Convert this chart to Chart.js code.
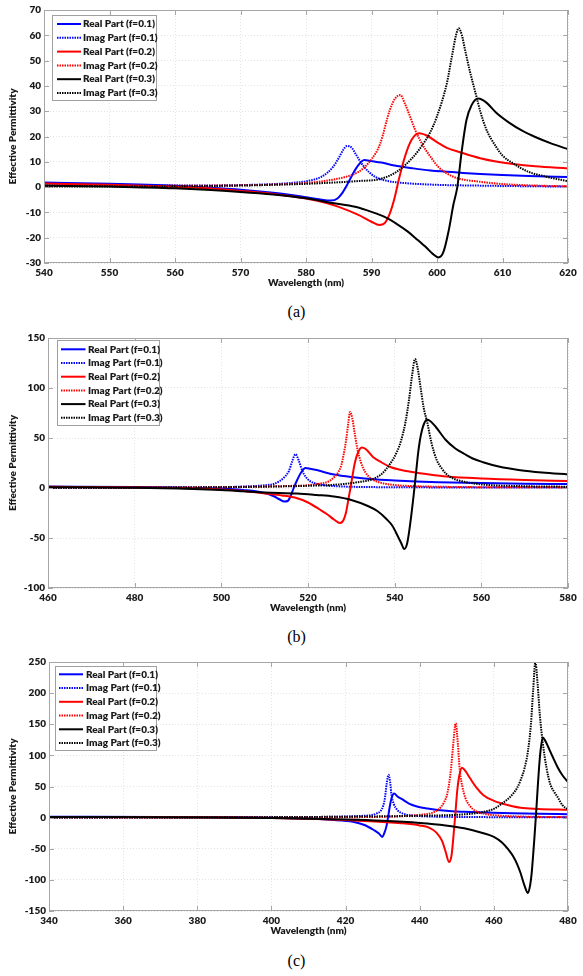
<!DOCTYPE html>
<html>
<head>
<meta charset="utf-8">
<script src="https://cdn.jsdelivr.net/npm/chart.js@4.4.1/dist/chart.umd.min.js"></script>
<style>
  body { margin: 0; background: #fff; width: 583px; height: 976px; position: relative; overflow: hidden; }
  .box { position: absolute; left: 0; width: 583px; height: 290px; }
  .cap { position: absolute; left: 5px; width: 583px; text-align: center; font: 16px "Liberation Serif", serif; line-height: 18px; color: #000; }
</style>
</head>
<body>
<div class="box" style="top:0px"><canvas id="chartA"></canvas></div>
<div class="cap" style="top:303px">(a)</div>
<div class="box" style="top:328px"><canvas id="chartB"></canvas></div>
<div class="cap" style="top:628px">(b)</div>
<div class="box" style="top:652px"><canvas id="chartC"></canvas></div>
<div class="cap" style="top:952px">(c)</div>
<script>
// series labels (same for the three panels)
var seriesLabels = ['Real Part (f=0.1)', 'Imag Part (f=0.1)', 'Real Part (f=0.2)',
                    'Imag Part (f=0.2)', 'Real Part (f=0.3)', 'Imag Part (f=0.3)'];
var seriesColors = ['#0000ff', '#ff0000', '#000000'];

// ---- panel (a): 540-620 nm, [wavelength, value]
var aRe1 = [[540,1.8],[550,1.3],[560,0.5],[565,-0.2],[570,-1.0],[575,-2.2],[578,-3.2],[580,-4],[582,-4.8],[583.8,-5.3],[584.8,-4.5],[585.5,-2.5],[586.2,0.5],[587,4.5],[587.8,8],[588.9,10.7],[590,10.3],[591.5,9.7],[593.5,8.5],[596.4,7.4],[599,6.6],[601.5,6.1],[604,5.6],[606.6,5.2],[610,4.8],[614,4.4],[620,4.0]];
var aIm1 = [[540,0.6],[560,0.6],[570,0.8],[575,1.2],[578,1.7],[580,2.3],[582.3,4],[583.3,5.8],[584.1,7.9],[585,11.5],[585.7,14.8],[586.3,16.3],[587,15.5],[587.6,13],[588.2,10.5],[588.9,7.9],[589.8,5.5],[590.6,4],[592.5,2.4],[595,1.6],[600,0.9],[606,0.6],[612,0.4],[620,0.2]];
var aRe2 = [[540,1.4],[550,0.9],[560,0.1],[565,-0.5],[570,-1.5],[575,-2.7],[580,-4.5],[583,-6.2],[585,-7.8],[588,-11],[590,-13.7],[591.2,-15],[592,-14.3],[592.8,-10.4],[593.5,-4.5],[594.2,3.3],[595.1,12],[596.1,18.6],[597.3,21.3],[598.5,20.3],[600,17.8],[601.5,15.5],[603.5,13.8],[606.6,11.4],[609,10.1],[611.6,9.1],[615,8.2],[620,7.4]];
var aIm2 = [[540,0.4],[560,0.5],[570,0.7],[575,1],[580,1.6],[583,2.5],[586,4],[588,6],[590,11],[591.3,17],[592.8,30.5],[593.6,35],[594.4,36.4],[595.1,33],[595.9,27.8],[596.6,23],[597.4,18.6],[598.2,15],[599,12],[600.2,8],[601.5,5.4],[603,3.6],[606.6,2.1],[610,1.2],[614,0.7],[620,0.3]];
var aRe3 = [[540,0.6],[550,0.2],[560,-0.5],[570,-1.9],[575,-2.9],[580,-4.4],[584,-6.3],[587.5,-7.8],[590,-9.8],[592,-11.8],[594,-14.8],[595.5,-17.5],[597,-20.8],[598.4,-24],[599.4,-26.5],[600.2,-27.8],[601,-25.5],[601.8,-17],[602.5,-7],[603.1,0],[603.8,14.7],[604.5,26.5],[605.3,32.5],[606.3,35],[607.5,33.5],[609,29.5],[611,25.5],[613,22.3],[615,19.8],[617.5,17.2],[620,15]];
var aIm3 = [[540,0.2],[560,0.3],[570,0.6],[575,0.9],[580,1.3],[585,1.9],[588,2.4],[591.3,3.2],[593.8,6],[596.4,12],[598,17.5],[598.9,21.3],[600,28],[601.5,41],[602.3,52],[602.9,60],[603.3,62.8],[603.8,60],[604.3,54],[605,46],[606,36],[606.6,30],[607.5,23],[609,16],[610,12.5],[611.6,9.4],[614,6],[616.7,4.1],[620,2.3]];

// ---- panel (b): 460-580 nm
var bRe1 = [[460,1.5],[480,1],[490,0.5],[500,-0.5],[505,-2],[510,-5],[512,-8],[513.5,-11.5],[514.5,-13.6],[515.3,-13],[516,-8],[516.7,0],[517.5,8],[518.4,15.5],[519.4,20],[520.5,19.3],[522,18],[524,15.5],[526,13.5],[530,11],[535,8.8],[540,7.5],[545,6.5],[550,5.8],[560,4.9],[570,4.3],[580,4]];
var bIm1 = [[460,0.3],[490,0.5],[500,0.8],[505,1.5],[510,2.7],[512,4],[513.5,7],[514.7,11.5],[515.6,17],[516.3,26],[517.1,33.8],[517.9,27],[518.7,17],[519.5,11],[520.5,6.8],[522,4.2],[524,2.6],[528,1.5],[535,0.9],[550,0.6],[580,0.4]];
var bRe2 = [[460,1.2],[480,0.6],[490,0],[500,-1.5],[505,-3],[510,-5.5],[514,-7.5],[517.5,-10.3],[520,-14.5],[522.7,-21.5],[524.5,-26.5],[526,-31.5],[527.4,-35],[528.2,-32],[528.8,-24],[529.3,-12],[529.8,0],[530.3,13],[530.8,25],[531.5,35],[532.4,40.5],[533.3,39],[535,31],[537,25.5],[539,21],[541,18.5],[544,16],[548,13.5],[552,11.5],[560,9.5],[570,8],[580,7]];
var bIm2 = [[460,0.4],[490,0.6],[500,0.9],[510,1.4],[515,2],[520,2.8],[523,4.5],[524.7,6.5],[526.2,11.5],[527,16],[527.7,23],[528.2,33],[528.8,48],[529.3,65],[529.7,76],[530.2,70],[530.8,54],[531.4,39],[532.2,26],[533.2,16],[534.7,9],[537,5],[540,3],[545,1.8],[555,1],[580,0.6]];
var bRe3 = [[460,0.8],[480,0.2],[490,-0.5],[500,-2],[505,-3.2],[510,-4.5],[517.5,-5.5],[522,-7],[526,-8.6],[530,-12],[533.8,-18],[536,-23],[538.1,-31],[539.5,-38],[540.7,-48],[541.5,-55],[542.2,-61],[542.9,-55],[543.7,-32],[544.2,-14],[544.6,1.3],[545,18],[545.4,34.5],[545.8,47],[546.3,57.7],[546.8,64.5],[547.4,68.3],[548.2,67],[549.5,61],[551.8,48],[554,39.5],[556.1,34],[558,29.5],[560.4,25.8],[564,21.5],[569,17.8],[574,15.5],[580,13.6]];
var bIm3 = [[460,0.3],[490,0.5],[500,0.8],[510,1.3],[520,2.2],[527,3.5],[531,5.5],[534.7,8.6],[537,14],[539,24.5],[540.5,36],[541.5,47.7],[542.5,66],[543.3,88],[544,112],[544.7,129],[545.3,120],[546,100],[546.7,80],[547.5,66],[548.5,45],[549.7,28],[550.8,20],[551.8,14.6],[553.5,9.5],[556,6.3],[560,3.6],[570,1.8],[580,1.3]];

// ---- panel (c): 340-480 nm
var cRe1 = [[340,1.5],[370,1.2],[390,0.6],[400,0],[410,-1.5],[416,-3.5],[422,-6.6],[425.1,-11.9],[427.6,-19.9],[429,-25.5],[429.9,-31],[430.5,-24],[431.1,-12],[431.5,2],[431.9,17],[432.4,31],[433.1,38.6],[434,34],[435,30.6],[437.1,22.6],[439.5,17.5],[442.1,14.7],[447.1,10.9],[452,9.3],[457.2,8.3],[465,7],[472,6.2],[480,5.6]];
var cIm1 = [[340,0.3],[400,0.6],[415,1.2],[420,1.8],[425,3],[427,4],[428.5,7],[429.5,11],[430.2,20],[430.6,31],[431.1,55],[431.6,69],[432,58],[432.4,36],[433,22],[434,12],[435.5,6.5],[438,3.5],[442,2],[450,1.1],[465,0.7],[480,0.5]];
var cRe2 = [[340,1.2],[380,0.6],[400,-0.5],[410,-2],[420,-4],[425,-5.5],[430,-7],[435,-9],[440,-12.5],[442.5,-16],[444.5,-24],[446,-37],[447,-55],[447.9,-71.4],[448.6,-60],[449.1,-30],[449.6,5],[450.1,42],[450.7,68],[451.4,80],[452.3,75],[453.5,64],[455.2,49],[457.2,36],[460,27],[462.2,22.6],[467.2,15.7],[472,14],[480,12.6]];
var cIm2 = [[340,0.3],[420,0.7],[430,1.3],[436,2.5],[440,4.5],[443,7],[445,13],[446.5,24],[447.5,40],[448.4,76],[449,115],[449.7,151.6],[450.3,118],[450.8,76],[451.5,50],[452.3,32],[453.5,19],[455,11],[457.5,6],[461,3.5],[467,1.8],[480,0.8]];
var cRe3 = [[340,1],[380,0.3],[400,-0.8],[420,-3],[430,-5],[440,-8.5],[447,-12.5],[452,-17],[457.2,-25],[460,-31],[462.2,-40],[464,-52],[465.2,-62],[466.3,-75],[467.2,-89],[468.2,-108],[469.2,-121],[469.8,-108],[470.2,-89],[470.6,-60],[470.9,-36],[471.2,-10],[471.5,17],[471.9,55],[472.2,81],[472.6,108],[473.2,128.8],[473.9,123],[474.7,113],[476,96],[477.2,81],[478.5,68],[480,57]];
var cIm3 = [[340,0.3],[400,0.8],[420,1.5],[435,2.5],[445,3.5],[450,4.5],[455,7],[457.2,9.3],[460,14],[462.2,22.6],[464,31],[465.2,38.6],[466.3,48],[467.2,60],[468.3,80],[469.2,107],[470,150],[470.6,205],[471.2,250],[471.8,215],[472.4,165],[473.2,120],[474.2,80],[475.2,54],[476.2,42],[477.2,33],[478.5,20],[480,13]];

Chart.defaults.font.family = 'Lato, "Open Sans", sans-serif';
Chart.defaults.font.size = 10;
Chart.defaults.font.weight = '800';
Chart.defaults.color = '#1a1a1a';

// matlab style box, inward ticks and the legend inside the axes
var matlabBox = {
  id: 'matlabBox',
  afterDatasetsDraw: function(chart, args, o) {
    var ctx = chart.ctx, a = chart.chartArea, sx = chart.scales.x, sy = chart.scales.y;
    ctx.save();
    ctx.strokeStyle = '#a6a6a6';
    ctx.lineWidth = 1;
    ctx.beginPath();
    sx.ticks.forEach(function(t) {
      var px = Math.round(sx.getPixelForValue(t.value)) + 0.5;
      ctx.moveTo(px, a.bottom); ctx.lineTo(px, a.bottom - 5);
      ctx.moveTo(px, a.top); ctx.lineTo(px, a.top + 5);
    });
    sy.ticks.forEach(function(t) {
      var py = Math.round(sy.getPixelForValue(t.value)) + 0.5;
      ctx.moveTo(a.left, py); ctx.lineTo(a.left + 5, py);
      ctx.moveTo(a.right, py); ctx.lineTo(a.right - 5, py);
    });
    ctx.stroke();
    ctx.strokeRect(Math.round(a.left) + 0.5, Math.round(a.top) + 0.5, Math.round(a.width) - 1, Math.round(a.height) - 1);

    // legend
    ctx.fillStyle = '#fff';
    ctx.fillRect(o.x, o.y, o.w, o.h);
    ctx.strokeStyle = '#a0a0a0';
    ctx.strokeRect(o.x + 0.5, o.y + 0.5, o.w, o.h);
    ctx.font = '800 10px Lato, "Open Sans", sans-serif';
    ctx.textBaseline = 'middle';
    chart.data.datasets.forEach(function(ds, i) {
      var y = o.row0 + i * o.dy;
      ctx.strokeStyle = ds.borderColor;
      ctx.lineWidth = 2;
      ctx.setLineDash(ds.borderDash);
      ctx.beginPath();
      ctx.moveTo(o.lx0, y); ctx.lineTo(o.lx1, y);
      ctx.stroke();
      ctx.setLineDash([]);
      ctx.fillStyle = '#1a1a1a';
      ctx.fillText(ds.label, o.tx, y);
    });
    ctx.restore();
  }
};

function makePanel(id, series, xmin, xmax, xstep, ymin, ymax, ystep, yw, padBottom, leg) {
  new Chart(document.getElementById(id), {
    type: 'line',
    data: {
      datasets: series.map(function(d, i) {
        return {
          label: seriesLabels[i],
          data: d,
          borderColor: seriesColors[Math.floor(i / 2)],
          borderWidth: 2,
          borderDash: i % 2 ? [1.5, 1] : [],
          pointRadius: 0,
          cubicInterpolationMode: 'monotone',
          order: 5 - i
        };
      })
    },
    options: {
      responsive: true,
      maintainAspectRatio: false,
      animation: false,
      layout: { padding: { left: 0, top: 10, right: 15, bottom: padBottom } },
      plugins: { legend: { display: false }, tooltip: { enabled: false }, matlabBox: leg },
      scales: {
        x: {
          type: 'linear', min: xmin, max: xmax,
          ticks: { stepSize: xstep, autoSkip: false, maxRotation: 0, padding: 4 },
          grid: { color: '#e3e3e3', drawTicks: false },
          border: { display: false, dash: [1, 2] },
          title: { display: true, text: 'Wavelength (nm)', padding: 0 },
          afterFit: function(s) { s.height = 26; }
        },
        y: {
          min: ymin, max: ymax,
          ticks: { stepSize: ystep, padding: 3 },
          grid: { color: '#e3e3e3', drawTicks: false },
          border: { display: false, dash: [1, 2] },
          title: { display: true, text: 'Effective Permittivity', padding: { top: 7, bottom: 0 } },
          afterFit: function(s) { s.width = yw; }
        }
      }
    },
    plugins: [matlabBox]
  });
}

makePanel('chartA', [aRe1, aIm1, aRe2, aIm2, aRe3, aIm3], 540, 620, 10, -30, 70, 10, 44, 1,
  { x: 52, y: 15, w: 104, h: 85, row0: 24, dy: 13.8, lx0: 57, lx1: 81, tx: 83 });
makePanel('chartB', [bRe1, bIm1, bRe2, bIm2, bRe3, bIm3], 460, 580, 20, -100, 150, 50, 48, 4,
  { x: 57, y: 12, w: 102, h: 85, row0: 21.3, dy: 13.7, lx0: 61, lx1: 85.5, tx: 88 });
makePanel('chartC', [cRe1, cIm1, cRe2, cIm2, cRe3, cIm3], 340, 480, 20, -150, 250, 50, 49, 5,
  { x: 55, y: 14, w: 101, h: 84, row0: 22.3, dy: 13.75, lx0: 59, lx1: 83, tx: 86 });
</script>
</body>
</html>
